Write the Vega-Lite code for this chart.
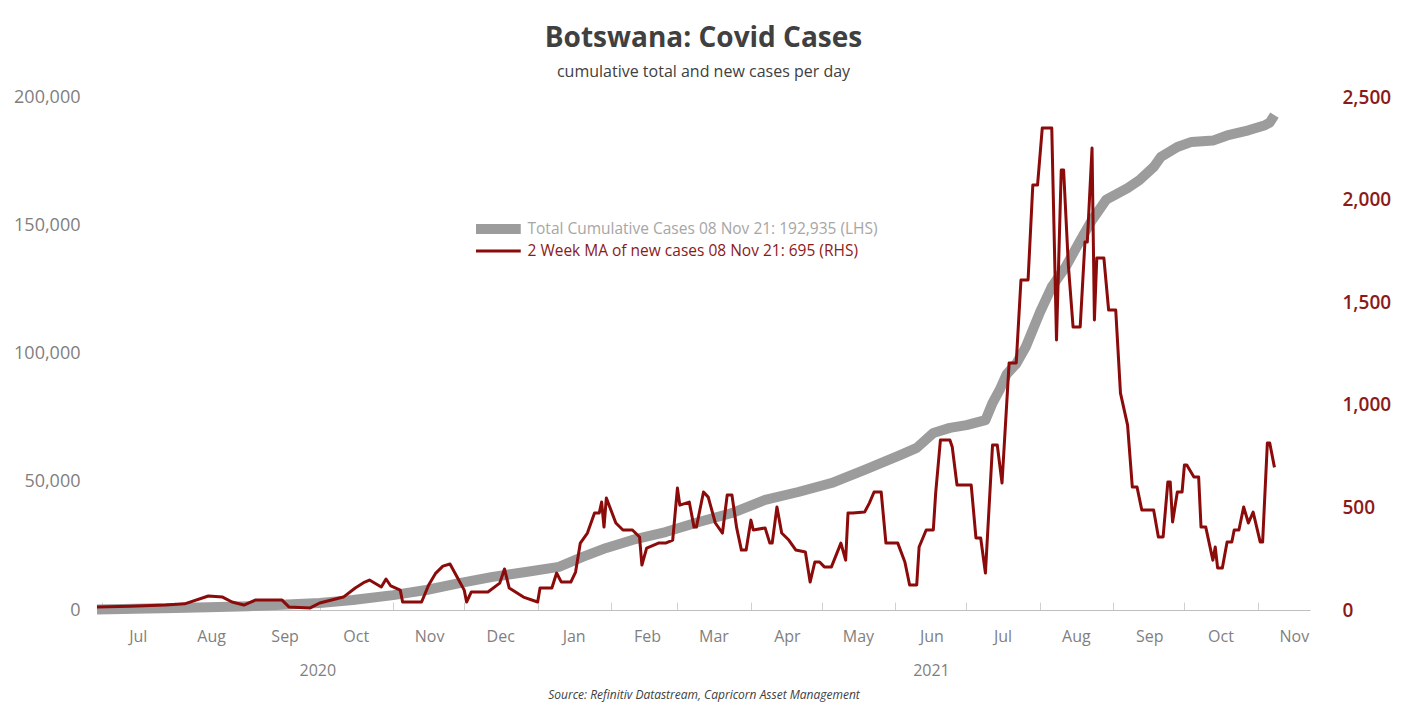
{
  "$schema": "https://vega.github.io/schema/vega-lite/v6.json",
  "width": 1213,
  "height": 513,
  "autosize": "none",
  "padding": {"left": 97, "top": 97, "right": 103, "bottom": 94},
  "background": "white",
  "title": {
    "text": "Botswana: Covid Cases",
    "subtitle": "cumulative total and new cases per day",
    "anchor": "middle",
    "font": "Open Sans",
    "fontSize": 28,
    "fontWeight": "bold",
    "color": "#404040",
    "subtitleFont": "Open Sans",
    "subtitleFontSize": 16,
    "subtitleColor": "#404040",
    "subtitlePadding": 11,
    "offset": 8
  },
  "datasets": {
    "total": [
      {"date": "2020-06-29", "cases": 200},
      {"date": "2020-07-15", "cases": 500},
      {"date": "2020-08-01", "cases": 800},
      {"date": "2020-08-15", "cases": 1100},
      {"date": "2020-09-01", "cases": 1500},
      {"date": "2020-09-15", "cases": 2000},
      {"date": "2020-10-01", "cases": 2700},
      {"date": "2020-10-15", "cases": 3900},
      {"date": "2020-11-01", "cases": 5800},
      {"date": "2020-11-15", "cases": 7800},
      {"date": "2020-11-29", "cases": 10500},
      {"date": "2020-12-13", "cases": 12900},
      {"date": "2020-12-27", "cases": 14800},
      {"date": "2021-01-10", "cases": 16800},
      {"date": "2021-01-20", "cases": 20700},
      {"date": "2021-01-30", "cases": 24200},
      {"date": "2021-02-10", "cases": 27300},
      {"date": "2021-02-24", "cases": 30400},
      {"date": "2021-03-10", "cases": 34300},
      {"date": "2021-03-24", "cases": 37800},
      {"date": "2021-04-07", "cases": 42900},
      {"date": "2021-04-21", "cases": 46000},
      {"date": "2021-05-05", "cases": 49500},
      {"date": "2021-05-19", "cases": 54600},
      {"date": "2021-06-03", "cases": 60400},
      {"date": "2021-06-10", "cases": 63200},
      {"date": "2021-06-17", "cases": 69000},
      {"date": "2021-06-24", "cases": 71000},
      {"date": "2021-07-01", "cases": 72100},
      {"date": "2021-07-09", "cases": 74000},
      {"date": "2021-07-12", "cases": 80700},
      {"date": "2021-07-15", "cases": 85800},
      {"date": "2021-07-18", "cases": 92000},
      {"date": "2021-07-22", "cases": 96000},
      {"date": "2021-07-26", "cases": 102500},
      {"date": "2021-08-01", "cases": 116000},
      {"date": "2021-08-06", "cases": 126000},
      {"date": "2021-08-12", "cases": 134000},
      {"date": "2021-08-18", "cases": 144000},
      {"date": "2021-08-23", "cases": 152000},
      {"date": "2021-08-29", "cases": 160000},
      {"date": "2021-09-07", "cases": 164500},
      {"date": "2021-09-12", "cases": 167600},
      {"date": "2021-09-18", "cases": 172700},
      {"date": "2021-09-21", "cases": 176600},
      {"date": "2021-09-28", "cases": 180500},
      {"date": "2021-10-04", "cases": 182500},
      {"date": "2021-10-13", "cases": 183000},
      {"date": "2021-10-19", "cases": 185000},
      {"date": "2021-10-28", "cases": 187000},
      {"date": "2021-11-04", "cases": 189000},
      {"date": "2021-11-06", "cases": 190000},
      {"date": "2021-11-08", "cases": 192935}
    ],
    "ma": [
      {"date": "2020-06-29", "ma": 15},
      {"date": "2020-07-13", "ma": 18},
      {"date": "2020-07-28", "ma": 24},
      {"date": "2020-08-05", "ma": 30},
      {"date": "2020-08-15", "ma": 68},
      {"date": "2020-08-21", "ma": 63},
      {"date": "2020-08-25", "ma": 39},
      {"date": "2020-08-30", "ma": 24},
      {"date": "2020-09-04", "ma": 49},
      {"date": "2020-09-15", "ma": 49},
      {"date": "2020-09-18", "ma": 15},
      {"date": "2020-09-27", "ma": 10},
      {"date": "2020-10-01", "ma": 34},
      {"date": "2020-10-11", "ma": 63},
      {"date": "2020-10-16", "ma": 107},
      {"date": "2020-10-20", "ma": 136},
      {"date": "2020-10-22", "ma": 146},
      {"date": "2020-10-27", "ma": 112},
      {"date": "2020-10-29", "ma": 151},
      {"date": "2020-10-31", "ma": 117},
      {"date": "2020-11-04", "ma": 97},
      {"date": "2020-11-05", "ma": 39},
      {"date": "2020-11-13", "ma": 39},
      {"date": "2020-11-16", "ma": 122},
      {"date": "2020-11-19", "ma": 180},
      {"date": "2020-11-22", "ma": 214},
      {"date": "2020-11-25", "ma": 224},
      {"date": "2020-11-28", "ma": 161},
      {"date": "2020-12-01", "ma": 97},
      {"date": "2020-12-02", "ma": 39},
      {"date": "2020-12-04", "ma": 88},
      {"date": "2020-12-11", "ma": 88},
      {"date": "2020-12-16", "ma": 131},
      {"date": "2020-12-18", "ma": 200},
      {"date": "2020-12-20", "ma": 107},
      {"date": "2020-12-26", "ma": 63},
      {"date": "2021-01-01", "ma": 39},
      {"date": "2021-01-02", "ma": 107},
      {"date": "2021-01-07", "ma": 107},
      {"date": "2021-01-09", "ma": 180},
      {"date": "2021-01-11", "ma": 136},
      {"date": "2021-01-15", "ma": 136},
      {"date": "2021-01-17", "ma": 185},
      {"date": "2021-01-19", "ma": 326},
      {"date": "2021-01-22", "ma": 375},
      {"date": "2021-01-25", "ma": 473},
      {"date": "2021-01-27", "ma": 473},
      {"date": "2021-01-28", "ma": 526},
      {"date": "2021-01-29", "ma": 404},
      {"date": "2021-01-30", "ma": 546},
      {"date": "2021-02-03", "ma": 424},
      {"date": "2021-02-06", "ma": 390},
      {"date": "2021-02-10", "ma": 390},
      {"date": "2021-02-13", "ma": 356},
      {"date": "2021-02-14", "ma": 219},
      {"date": "2021-02-16", "ma": 302},
      {"date": "2021-02-21", "ma": 326},
      {"date": "2021-02-24", "ma": 326},
      {"date": "2021-02-27", "ma": 341},
      {"date": "2021-03-01", "ma": 594},
      {"date": "2021-03-02", "ma": 511},
      {"date": "2021-03-06", "ma": 526},
      {"date": "2021-03-08", "ma": 404},
      {"date": "2021-03-09", "ma": 404},
      {"date": "2021-03-12", "ma": 575},
      {"date": "2021-03-14", "ma": 550},
      {"date": "2021-03-17", "ma": 424},
      {"date": "2021-03-20", "ma": 375},
      {"date": "2021-03-22", "ma": 560},
      {"date": "2021-03-24", "ma": 560},
      {"date": "2021-03-26", "ma": 400},
      {"date": "2021-03-28", "ma": 292},
      {"date": "2021-03-30", "ma": 292},
      {"date": "2021-04-01", "ma": 438},
      {"date": "2021-04-02", "ma": 390},
      {"date": "2021-04-07", "ma": 400},
      {"date": "2021-04-09", "ma": 326},
      {"date": "2021-04-10", "ma": 326},
      {"date": "2021-04-12", "ma": 502},
      {"date": "2021-04-14", "ma": 375},
      {"date": "2021-04-17", "ma": 341},
      {"date": "2021-04-20", "ma": 292},
      {"date": "2021-04-24", "ma": 283},
      {"date": "2021-04-26", "ma": 136},
      {"date": "2021-04-28", "ma": 234},
      {"date": "2021-04-30", "ma": 234},
      {"date": "2021-05-02", "ma": 210},
      {"date": "2021-05-05", "ma": 210},
      {"date": "2021-05-09", "ma": 326},
      {"date": "2021-05-11", "ma": 243},
      {"date": "2021-05-12", "ma": 473},
      {"date": "2021-05-14", "ma": 473},
      {"date": "2021-05-19", "ma": 477},
      {"date": "2021-05-21", "ma": 521},
      {"date": "2021-05-23", "ma": 575},
      {"date": "2021-05-26", "ma": 575},
      {"date": "2021-05-28", "ma": 326},
      {"date": "2021-06-02", "ma": 326},
      {"date": "2021-06-05", "ma": 234},
      {"date": "2021-06-07", "ma": 122},
      {"date": "2021-06-10", "ma": 122},
      {"date": "2021-06-11", "ma": 307},
      {"date": "2021-06-14", "ma": 390},
      {"date": "2021-06-17", "ma": 390},
      {"date": "2021-06-18", "ma": 570},
      {"date": "2021-06-20", "ma": 828},
      {"date": "2021-06-24", "ma": 828},
      {"date": "2021-06-25", "ma": 794},
      {"date": "2021-06-27", "ma": 609},
      {"date": "2021-07-03", "ma": 609},
      {"date": "2021-07-05", "ma": 351},
      {"date": "2021-07-07", "ma": 351},
      {"date": "2021-07-09", "ma": 180},
      {"date": "2021-07-12", "ma": 804},
      {"date": "2021-07-14", "ma": 804},
      {"date": "2021-07-16", "ma": 619},
      {"date": "2021-07-19", "ma": 1204},
      {"date": "2021-07-22", "ma": 1204},
      {"date": "2021-07-24", "ma": 1608},
      {"date": "2021-07-27", "ma": 1608},
      {"date": "2021-07-29", "ma": 2071},
      {"date": "2021-07-31", "ma": 2071},
      {"date": "2021-08-02", "ma": 2349},
      {"date": "2021-08-06", "ma": 2349},
      {"date": "2021-08-08", "ma": 1316},
      {"date": "2021-08-10", "ma": 2144},
      {"date": "2021-08-11", "ma": 2144},
      {"date": "2021-08-13", "ma": 1681},
      {"date": "2021-08-15", "ma": 1379},
      {"date": "2021-08-18", "ma": 1379},
      {"date": "2021-08-20", "ma": 1793},
      {"date": "2021-08-21", "ma": 1793},
      {"date": "2021-08-23", "ma": 2251},
      {"date": "2021-08-24", "ma": 1413},
      {"date": "2021-08-25", "ma": 1715},
      {"date": "2021-08-28", "ma": 1715},
      {"date": "2021-08-30", "ma": 1462},
      {"date": "2021-09-02", "ma": 1462},
      {"date": "2021-09-04", "ma": 1057},
      {"date": "2021-09-07", "ma": 901},
      {"date": "2021-09-09", "ma": 599},
      {"date": "2021-09-11", "ma": 599},
      {"date": "2021-09-13", "ma": 487},
      {"date": "2021-09-18", "ma": 487},
      {"date": "2021-09-20", "ma": 356},
      {"date": "2021-09-22", "ma": 356},
      {"date": "2021-09-24", "ma": 624},
      {"date": "2021-09-25", "ma": 624},
      {"date": "2021-09-26", "ma": 429},
      {"date": "2021-09-28", "ma": 575},
      {"date": "2021-09-30", "ma": 575},
      {"date": "2021-10-01", "ma": 707},
      {"date": "2021-10-02", "ma": 707},
      {"date": "2021-10-05", "ma": 648},
      {"date": "2021-10-07", "ma": 648},
      {"date": "2021-10-08", "ma": 404},
      {"date": "2021-10-10", "ma": 404},
      {"date": "2021-10-13", "ma": 243},
      {"date": "2021-10-14", "ma": 307},
      {"date": "2021-10-15", "ma": 205},
      {"date": "2021-10-17", "ma": 205},
      {"date": "2021-10-19", "ma": 331},
      {"date": "2021-10-21", "ma": 331},
      {"date": "2021-10-22", "ma": 390},
      {"date": "2021-10-24", "ma": 390},
      {"date": "2021-10-26", "ma": 502},
      {"date": "2021-10-28", "ma": 424},
      {"date": "2021-10-30", "ma": 477},
      {"date": "2021-11-02", "ma": 331},
      {"date": "2021-11-03", "ma": 331},
      {"date": "2021-11-05", "ma": 814},
      {"date": "2021-11-06", "ma": 814},
      {"date": "2021-11-08", "ma": 695}
    ]
  },
  "layer": [
    {
      "data": {"name": "total"},
      "mark": {"type": "line", "strokeCap": "butt", "strokeJoin": "round"},
      "encoding": {
        "x": {
          "field": "date",
          "type": "temporal",
          "scale": {"domain": [{"year": 2020, "month": 6, "date": 29}, {"year": 2021, "month": 11, "date": 23}]},
          "axis": {
            "orient": "bottom",
            "title": null,
            "format": "%b",
            "tickCount": {"interval": "month", "step": 1},
            "labelOffset": 36,
            "labelFlush": false,
            "labelBound": false,
            "labelOverlap": false,
            "grid": false,
            "domainColor": "#bfbfbf",
            "domainWidth": 1.2,
            "tickColor": "#d0d0d0",
            "tickSize": -8,
            "labelPadding": 26,
            "labelFont": "Open Sans",
            "labelFontSize": 16,
            "labelColor": "#7f7f7f"
          }
        },
        "y": {
          "field": "cases",
          "type": "quantitative",
          "scale": {"domain": [0, 200000], "nice": false},
          "axis": {
            "orient": "left",
            "title": null,
            "values": [0, 50000, 100000, 150000, 200000],
            "format": ",.0f",
            "domain": false,
            "ticks": false,
            "grid": false,
            "labelPadding": 17,
            "labelFont": "Open Sans",
            "labelFontSize": 18,
            "labelColor": "#7f7f7f"
          }
        },
        "color": {
          "datum": "Total Cumulative Cases 08 Nov 21: 192,935 (LHS)",
          "scale": {
            "domain": ["Total Cumulative Cases 08 Nov 21: 192,935 (LHS)", "2 Week MA of new cases 08 Nov 21: 695 (RHS)"],
            "range": ["#9c9c9c", "#8b0a0a"]
          },
          "legend": {
            "orient": "none",
            "legendX": 379,
            "legendY": 123,
            "title": null,
            "symbolType": "M-4,0L18.5,0",
            "symbolSize": 16,
            "clipHeight": 18,
            "labelFont": "Open Sans",
            "labelFontSize": 15.5,
            "labelLimit": 600,
            "labelColor": {"expr": "indexof(datum.label, 'Total') == 0 ? '#a6a6a6' : '#8b1a1a'"},
            "rowPadding": 4,
            "labelOffset": 36
          }
        },
        "strokeWidth": {
          "datum": "Total Cumulative Cases 08 Nov 21: 192,935 (LHS)",
          "type": "ordinal",
          "scale": {
            "domain": ["Total Cumulative Cases 08 Nov 21: 192,935 (LHS)", "2 Week MA of new cases 08 Nov 21: 695 (RHS)"],
            "range": [10, 3]
          },
          "legend": {
            "orient": "none",
            "legendX": 379,
            "legendY": 123,
            "title": null,
            "symbolType": "M-4,0L18.5,0",
            "symbolSize": 16,
            "clipHeight": 18,
            "labelFont": "Open Sans",
            "labelFontSize": 15.5,
            "labelLimit": 600,
            "labelColor": {"expr": "indexof(datum.label, 'Total') == 0 ? '#a6a6a6' : '#8b1a1a'"},
            "rowPadding": 4,
            "labelOffset": 36
          }
        }
      }
    },
    {
      "data": {"name": "ma"},
      "mark": {"type": "line", "strokeJoin": "round"},
      "encoding": {
        "x": {
          "field": "date",
          "type": "temporal",
          "axis": {
            "orient": "bottom",
            "values": [{"year": 2020, "month": 9, "date": 30}, {"year": 2021, "month": 6, "date": 16}],
            "format": "%Y",
            "domain": false,
            "ticks": false,
            "grid": false,
            "labelFlush": false,
            "labelPadding": 52,
            "labelFont": "Open Sans",
            "labelFontSize": 16,
            "labelColor": "#7f7f7f",
            "title": "Source: Refinitiv Datastream, Capricorn Asset Management",
            "titleFont": "Open Sans",
            "titleFontStyle": "italic",
            "titleFontWeight": "normal",
            "titleFontSize": 12,
            "titleColor": "#404040",
            "titlePadding": 11
          }
        },
        "y": {
          "field": "ma",
          "type": "quantitative",
          "scale": {"domain": [0, 2500], "nice": false},
          "axis": {
            "orient": "right",
            "title": null,
            "values": [0, 500, 1000, 1500, 2000, 2500],
            "format": ",.0f",
            "labelAlign": "left",
            "domain": false,
            "ticks": false,
            "grid": false,
            "labelPadding": 32,
            "labelFont": "Open Sans",
            "labelFontSize": 19,
            "labelFontWeight": 600,
            "labelColor": "#8b1a1a"
          }
        },
        "color": {"datum": "2 Week MA of new cases 08 Nov 21: 695 (RHS)"},
        "strokeWidth": {"datum": "2 Week MA of new cases 08 Nov 21: 695 (RHS)", "type": "ordinal"}
      }
    }
  ],
  "resolve": {"scale": {"y": "independent"}, "axis": {"x": "independent"}},
  "config": {"view": {"stroke": null}, "font": "Open Sans"}
}
